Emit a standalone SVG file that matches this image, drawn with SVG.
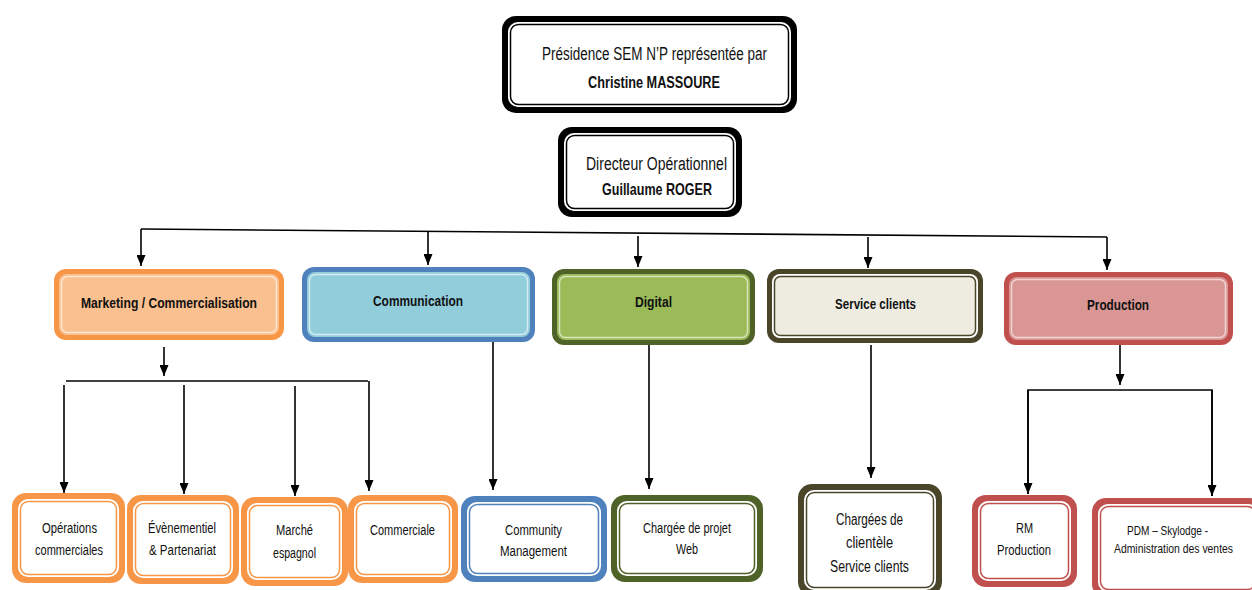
<svg xmlns="http://www.w3.org/2000/svg" width="1252" height="590" viewBox="0 0 1252 590">
<style>
text{font-family:"Liberation Sans",Arial,sans-serif;fill:#111;text-anchor:middle}
.b{font-weight:bold}
.gap{fill:#fff}
.line{fill:#fff;stroke-width:1.5}
.hl{fill:none;stroke:#fff;stroke-opacity:.6;stroke-width:1.5}
.c{fill:none;stroke:#000;stroke-width:1.6}
.bk{fill:#000}.bks{stroke:#000}
.or{fill:#F79646}.ors{stroke:#F79646}
.bl{fill:#4F81BD}.bls{stroke:#4F81BD}
.gr{fill:#4F6228}.grs{stroke:#4F6228}
.ol{fill:#4A4529}.ols{stroke:#4A4529}
.rd{fill:#C0504D}.rds{stroke:#C0504D}
</style>
<defs>
<marker id="ah" viewBox="0 0 10 10" refX="10" refY="5" markerWidth="11" markerHeight="9" markerUnits="userSpaceOnUse" orient="auto" preserveAspectRatio="none">
<path d="M0,0 L10,5 L0,10 z" fill="#000"/>
</marker>
</defs>

<g id="connectors">
<path class="c" d="M141 229 L1107 237" stroke-width="3"/>
<path class="c" d="M141 229 V266" marker-end="url(#ah)"/>
<path class="c" d="M428 232 V265" marker-end="url(#ah)"/>
<path class="c" d="M638 236 V267" marker-end="url(#ah)"/>
<path class="c" d="M868 237 V268" marker-end="url(#ah)"/>
<path class="c" d="M1107 237 V270" marker-end="url(#ah)"/>
<path class="c" d="M164 347 V376" marker-end="url(#ah)"/>
<path class="c" d="M66 381 H368" stroke-width="2"/>
<path class="c" d="M64 385 V493" marker-end="url(#ah)"/>
<path class="c" d="M184 385 V494" marker-end="url(#ah)"/>
<path class="c" d="M295 386 V496" marker-end="url(#ah)"/>
<path class="c" d="M369 381 V491" marker-end="url(#ah)"/>
<path class="c" d="M493 342 V490" marker-end="url(#ah)"/>
<path class="c" d="M649 345 V489" marker-end="url(#ah)"/>
<path class="c" d="M871 345 V478" marker-end="url(#ah)"/>
<path class="c" d="M1120 345 V385" marker-end="url(#ah)"/>
<path class="c" d="M1028 494 V390 H1212 V496" stroke-width="2"/>
<path class="c" d="M1028 390 V494" marker-end="url(#ah)"/>
<path class="c" d="M1212 390 V496" marker-end="url(#ah)"/>
</g>

<g id="presidence">
<rect class="bk" x="502" y="16" width="295" height="97" rx="14"/>
<rect class="gap" x="508" y="22" width="283" height="85" rx="10"/>
<rect class="line bks" x="510.5" y="24.5" width="278" height="80" rx="8"/>
<text x="654.5" y="60" font-size="18" textLength="225" lengthAdjust="spacingAndGlyphs">Présidence SEM N’P représentée par</text>
<text class="b" x="654" y="88" font-size="16" textLength="132" lengthAdjust="spacingAndGlyphs">Christine MASSOURE</text>
</g>

<g id="directeur">
<rect class="bk" x="558" y="127" width="184" height="90" rx="14"/>
<rect class="gap" x="564" y="133" width="172" height="78" rx="10"/>
<rect class="line bks" x="566.5" y="135.5" width="167" height="73" rx="8"/>
<text x="656.5" y="170" font-size="18" textLength="141" lengthAdjust="spacingAndGlyphs">Directeur Opérationnel</text>
<text class="b" x="657" y="195" font-size="17" textLength="110" lengthAdjust="spacingAndGlyphs">Guillaume ROGER</text>
</g>

<g id="marketing">
<rect class="or" x="54" y="269" width="230" height="71" rx="12"/>
<rect fill="#FAC090" x="59" y="274" width="220" height="61" rx="8"/>
<rect class="hl" x="61.5" y="276.5" width="215" height="56" rx="6"/>
<text class="b" x="169" y="308" font-size="15" textLength="176" lengthAdjust="spacingAndGlyphs">Marketing / Commercialisation</text>
</g>

<g id="communication">
<rect class="bl" x="302" y="267" width="233" height="75" rx="12"/>
<rect fill="#92CDDC" x="307" y="272" width="223" height="65" rx="8"/>
<rect class="hl" x="309.5" y="274.5" width="218" height="60" rx="6"/>
<text class="b" x="418" y="306" font-size="15" textLength="90" lengthAdjust="spacingAndGlyphs">Communication</text>
</g>

<g id="digital">
<rect class="gr" x="552" y="269" width="203" height="76" rx="12"/>
<rect fill="#9BBB59" x="557" y="274" width="193" height="66" rx="8"/>
<rect class="hl" x="559.5" y="276.5" width="188" height="61" rx="6"/>
<text class="b" x="653.5" y="307" font-size="15" textLength="37" lengthAdjust="spacingAndGlyphs">Digital</text>
</g>

<g id="service">
<rect class="ol" x="767" y="269" width="216" height="74" rx="12"/>
<rect class="gap" x="772" y="274" width="206" height="64" rx="8"/>
<rect fill="#EEECE1" stroke="#4A4529" stroke-width="1.5" x="774.5" y="276.5" width="201" height="59" rx="6"/>
<text class="b" x="875.5" y="309" font-size="15" textLength="81" lengthAdjust="spacingAndGlyphs">Service clients</text>
</g>

<g id="production">
<rect class="rd" x="1004" y="272" width="229" height="73" rx="12"/>
<rect fill="#D99694" x="1009" y="277" width="219" height="63" rx="8"/>
<rect class="hl" x="1011.5" y="279.5" width="214" height="58" rx="6"/>
<text class="b" x="1118" y="310" font-size="15" textLength="62" lengthAdjust="spacingAndGlyphs">Production</text>
</g>

<g id="operations">
<rect class="or" x="12" y="493" width="113" height="90" rx="14"/>
<rect class="gap" x="18" y="499" width="101" height="78" rx="10"/>
<rect class="line ors" x="20.5" y="501.5" width="96" height="73" rx="8"/>
<text x="69.5" y="533" font-size="14" textLength="55" lengthAdjust="spacingAndGlyphs">Opérations</text>
<text x="69" y="555" font-size="14" textLength="68" lengthAdjust="spacingAndGlyphs">commerciales</text>
</g>

<g id="evenementiel">
<rect class="or" x="127" y="495" width="112" height="89" rx="14"/>
<rect class="gap" x="133" y="501" width="100" height="77" rx="10"/>
<rect class="line ors" x="135.5" y="503.5" width="95" height="72" rx="8"/>
<text x="182" y="533" font-size="14" textLength="68" lengthAdjust="spacingAndGlyphs">Évènementiel</text>
<text x="182.5" y="555" font-size="14" textLength="67" lengthAdjust="spacingAndGlyphs">&amp; Partenariat</text>
</g>

<g id="marche">
<rect class="or" x="241" y="497" width="107" height="89" rx="14"/>
<rect class="gap" x="247" y="503" width="95" height="77" rx="10"/>
<rect class="line ors" x="249.5" y="505.5" width="90" height="72" rx="8"/>
<text x="294.5" y="535" font-size="14" textLength="37" lengthAdjust="spacingAndGlyphs">Marché</text>
<text x="294.5" y="558" font-size="14" textLength="43" lengthAdjust="spacingAndGlyphs">espagnol</text>
</g>

<g id="commerciale">
<rect class="or" x="348" y="495" width="110" height="88" rx="14"/>
<rect class="gap" x="354" y="501" width="98" height="76" rx="10"/>
<rect class="line ors" x="356.5" y="503.5" width="93" height="71" rx="8"/>
<text x="402.5" y="535" font-size="14" textLength="65" lengthAdjust="spacingAndGlyphs">Commerciale</text>
</g>

<g id="community">
<rect class="bl" x="461" y="496" width="146" height="86" rx="14"/>
<rect class="gap" x="467" y="502" width="134" height="74" rx="10"/>
<rect class="line bls" x="469.5" y="504.5" width="129" height="69" rx="8"/>
<text x="533.5" y="535" font-size="14" textLength="57" lengthAdjust="spacingAndGlyphs">Community</text>
<text x="533.5" y="556" font-size="14" textLength="67" lengthAdjust="spacingAndGlyphs">Management</text>
</g>

<g id="chargee-web">
<rect class="gr" x="611" y="495" width="152" height="87" rx="14"/>
<rect class="gap" x="617" y="501" width="140" height="75" rx="10"/>
<rect class="line grs" x="619.5" y="503.5" width="135" height="70" rx="8"/>
<text x="687" y="533" font-size="14" textLength="88" lengthAdjust="spacingAndGlyphs">Chargée de projet</text>
<text x="687" y="554" font-size="14" textLength="22" lengthAdjust="spacingAndGlyphs">Web</text>
</g>

<g id="chargees-clientele">
<rect class="ol" x="798" y="484" width="144" height="112" rx="14"/>
<rect class="gap" x="804" y="490" width="132" height="100" rx="10"/>
<rect class="line ols" x="806.5" y="492.5" width="127" height="95" rx="8"/>
<text x="869.5" y="525" font-size="16" textLength="67" lengthAdjust="spacingAndGlyphs">Chargées de</text>
<text x="869.5" y="548" font-size="16" textLength="47" lengthAdjust="spacingAndGlyphs">clientèle</text>
<text x="869.5" y="572" font-size="16" textLength="79" lengthAdjust="spacingAndGlyphs">Service clients</text>
</g>

<g id="rm-production">
<rect class="rd" x="972" y="495" width="105" height="92" rx="14"/>
<rect class="gap" x="978" y="501" width="93" height="80" rx="10"/>
<rect class="line rds" x="980.5" y="503.5" width="88" height="75" rx="8"/>
<text x="1024.5" y="533" font-size="14" textLength="17" lengthAdjust="spacingAndGlyphs">RM</text>
<text x="1024" y="555" font-size="14" textLength="54" lengthAdjust="spacingAndGlyphs">Production</text>
</g>

<g id="pdm">
<rect class="rd" x="1092" y="498" width="172" height="100" rx="14"/>
<rect class="gap" x="1098" y="504" width="160" height="88" rx="10"/>
<rect class="line rds" x="1100.5" y="506.5" width="155" height="83" rx="8"/>
<text x="1167.5" y="535" font-size="13" textLength="81" lengthAdjust="spacingAndGlyphs">PDM – Skylodge -</text>
<text x="1173.5" y="553" font-size="13" textLength="119" lengthAdjust="spacingAndGlyphs">Administration des ventes</text>
</g>
</svg>
